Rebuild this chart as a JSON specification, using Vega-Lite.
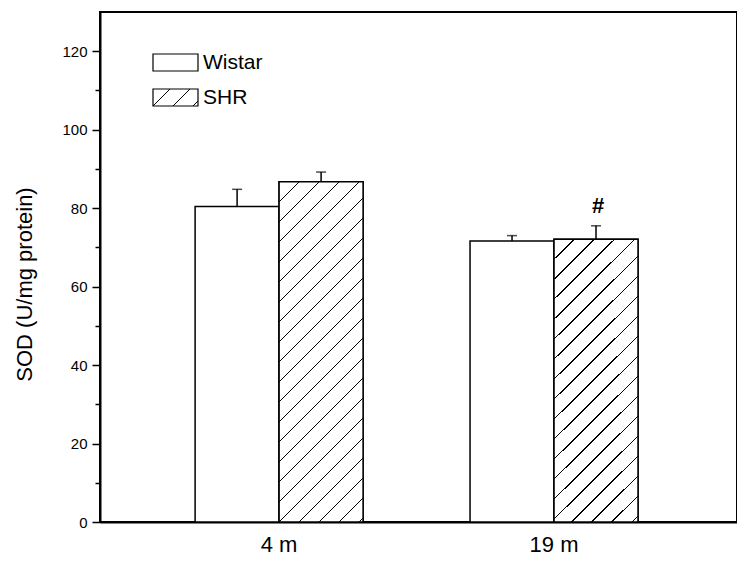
{
  "$schema": "https://vega.github.io/schema/vega-lite/v6.json",
  "autosize": {"type": "none"},
  "padding": {"left": 100, "top": 12, "right": 0, "bottom": 40},
  "width": 637,
  "height": 510,
  "background": "white",
  "config": {
    "font": "Liberation Sans",
    "view": {"stroke": "black", "strokeWidth": 2},
    "axis": {"grid": false, "domainColor": "black", "tickColor": "black", "labelColor": "black", "titleColor": "black"}
  },
  "data": {
    "values": [
      {"age": "4 m", "group": "Wistar", "mean": 80.4, "upper": 84.8, "note": ""},
      {"age": "4 m", "group": "SHR", "mean": 86.7, "upper": 89.2, "note": ""},
      {"age": "19 m", "group": "Wistar", "mean": 71.6, "upper": 73.0, "note": ""},
      {"age": "19 m", "group": "SHR", "mean": 72.1, "upper": 75.5, "note": "#"}
    ]
  },
  "encoding": {
    "x": {
      "field": "age", "type": "nominal", "sort": ["4 m", "19 m"],
      "scale": {"paddingInner": 0.389, "paddingOuter": 0.353, "align": 0.49},
      "axis": {"title": null, "ticks": false, "domainWidth": 2, "labelFontSize": 22, "labelPadding": 12, "labelAngle": 0, "labelDx": 6}
    },
    "xOffset": {
      "field": "group", "type": "nominal", "sort": ["Wistar", "SHR"],
      "scale": {"paddingInner": 0, "paddingOuter": 0}
    }
  },
  "resolve": {"axis": {"y": "independent"}},
  "layer": [
    {
      "mark": {"type": "bar", "stroke": "black", "strokeWidth": 1.5},
      "encoding": {
        "y": {
          "field": "mean", "type": "quantitative",
          "scale": {"domain": [0, 130], "nice": false},
          "axis": {
            "orient": "left", "values": [0, 20, 40, 60, 80, 100, 120],
            "tickSize": 8, "tickWidth": 1.5, "domainWidth": 2,
            "labelFontSize": 15, "labelPadding": 5,
            "title": "SOD (U/mg protein)", "titleFontSize": 22, "titleFontWeight": "normal",
            "titleX": -76, "titleY": 272, "titleBaseline": "middle", "titleAngle": 270
          }
        },
        "fill": {
          "field": "group", "type": "nominal",
          "scale": {"domain": ["Wistar", "SHR"], "range": ["white", {"expr": "{gradient: 'linear', x1: 0, y1: 0, x2: 1.2057, y2: 0.4555, stops: [{offset: 0, color: 'white'}, {offset: 0.2605, color: 'white'}, {offset: 0.2605, color: 'black'}, {offset: 0.2879, color: 'black'}, {offset: 0.2879, color: 'white'}, {offset: 0.5831, color: 'white'}, {offset: 0.5831, color: 'black'}, {offset: 0.6105, color: 'black'}, {offset: 0.6105, color: 'white'}, {offset: 0.9057, color: 'white'}, {offset: 0.9057, color: 'black'}, {offset: 0.9331, color: 'black'}, {offset: 0.9331, color: 'white'}, {offset: 1, color: 'white'}]}"}]},
          "legend": {
            "orient": "none", "legendX": 52, "legendY": 27, "title": null, "padding": 0,
            "symbolType": "M-1,-0.378H1V0.378H-1Z", "symbolSize": 2025,
            "symbolStrokeColor": "black", "symbolStrokeWidth": 1.2,
            "labelFontSize": 21, "labelOffset": 4, "rowPadding": -1, "labelColor": "black"
          }
        }
      }
    },
    {
      "transform": [{"filter": "datum.group === 'SHR'"}],
      "mark": {"type": "bar", "stroke": "black", "strokeWidth": 1.5},
      "encoding": {
        "y": {"field": "mean", "type": "quantitative", "scale": {"domain": [0, 130], "nice": false}, "axis": null},
        "fill": {
          "condition": [
            {"test": "datum.age === '4 m'", "value": {"gradient": "linear", "x1": 0, "y1": 0, "x2": 0.2904, "y2": 1.1754, "stops": [
              {"offset": 0, "color": "white"},
              {"offset": 0.0452, "color": "white"}, {"offset": 0.0452, "color": "black"}, {"offset": 0.0492, "color": "black"}, {"offset": 0.0492, "color": "white"},
              {"offset": 0.0923, "color": "white"}, {"offset": 0.0923, "color": "black"}, {"offset": 0.0963, "color": "black"}, {"offset": 0.0963, "color": "white"},
              {"offset": 0.1395, "color": "white"}, {"offset": 0.1395, "color": "black"}, {"offset": 0.1435, "color": "black"}, {"offset": 0.1435, "color": "white"},
              {"offset": 0.1867, "color": "white"}, {"offset": 0.1867, "color": "black"}, {"offset": 0.1907, "color": "black"}, {"offset": 0.1907, "color": "white"},
              {"offset": 0.2338, "color": "white"}, {"offset": 0.2338, "color": "black"}, {"offset": 0.2378, "color": "black"}, {"offset": 0.2378, "color": "white"},
              {"offset": 0.2810, "color": "white"}, {"offset": 0.2810, "color": "black"}, {"offset": 0.2850, "color": "black"}, {"offset": 0.2850, "color": "white"},
              {"offset": 0.3282, "color": "white"}, {"offset": 0.3282, "color": "black"}, {"offset": 0.3322, "color": "black"}, {"offset": 0.3322, "color": "white"},
              {"offset": 0.3754, "color": "white"}, {"offset": 0.3754, "color": "black"}, {"offset": 0.3794, "color": "black"}, {"offset": 0.3794, "color": "white"},
              {"offset": 0.4225, "color": "white"}, {"offset": 0.4225, "color": "black"}, {"offset": 0.4265, "color": "black"}, {"offset": 0.4265, "color": "white"},
              {"offset": 0.4697, "color": "white"}, {"offset": 0.4697, "color": "black"}, {"offset": 0.4737, "color": "black"}, {"offset": 0.4737, "color": "white"},
              {"offset": 0.5169, "color": "white"}, {"offset": 0.5169, "color": "black"}, {"offset": 0.5209, "color": "black"}, {"offset": 0.5209, "color": "white"},
              {"offset": 0.5640, "color": "white"}, {"offset": 0.5640, "color": "black"}, {"offset": 0.5680, "color": "black"}, {"offset": 0.5680, "color": "white"},
              {"offset": 0.6112, "color": "white"}, {"offset": 0.6112, "color": "black"}, {"offset": 0.6152, "color": "black"}, {"offset": 0.6152, "color": "white"},
              {"offset": 0.6584, "color": "white"}, {"offset": 0.6584, "color": "black"}, {"offset": 0.6624, "color": "black"}, {"offset": 0.6624, "color": "white"},
              {"offset": 0.7055, "color": "white"}, {"offset": 0.7055, "color": "black"}, {"offset": 0.7095, "color": "black"}, {"offset": 0.7095, "color": "white"},
              {"offset": 0.7527, "color": "white"}, {"offset": 0.7527, "color": "black"}, {"offset": 0.7567, "color": "black"}, {"offset": 0.7567, "color": "white"},
              {"offset": 0.7999, "color": "white"}, {"offset": 0.7999, "color": "black"}, {"offset": 0.8039, "color": "black"}, {"offset": 0.8039, "color": "white"},
              {"offset": 0.8471, "color": "white"}, {"offset": 0.8471, "color": "black"}, {"offset": 0.8511, "color": "black"}, {"offset": 0.8511, "color": "white"},
              {"offset": 0.8942, "color": "white"}, {"offset": 0.8942, "color": "black"}, {"offset": 0.8982, "color": "black"}, {"offset": 0.8982, "color": "white"},
              {"offset": 0.9414, "color": "white"}, {"offset": 0.9414, "color": "black"}, {"offset": 0.9454, "color": "black"}, {"offset": 0.9454, "color": "white"},
              {"offset": 0.9886, "color": "white"}, {"offset": 0.9886, "color": "black"}, {"offset": 0.9926, "color": "black"}, {"offset": 0.9926, "color": "white"},
              {"offset": 1, "color": "white"}
            ]}}
          ],
          "value": {"gradient": "linear", "x1": 0, "y1": 0, "x2": 0.3492, "y2": 1.1908, "stops": [
            {"offset": 0, "color": "white"},
            {"offset": 0.0523, "color": "white"}, {"offset": 0.0523, "color": "black"}, {"offset": 0.0569, "color": "black"}, {"offset": 0.0569, "color": "white"},
            {"offset": 0.1070, "color": "white"}, {"offset": 0.1070, "color": "black"}, {"offset": 0.1116, "color": "black"}, {"offset": 0.1116, "color": "white"},
            {"offset": 0.1616, "color": "white"}, {"offset": 0.1616, "color": "black"}, {"offset": 0.1662, "color": "black"}, {"offset": 0.1662, "color": "white"},
            {"offset": 0.2163, "color": "white"}, {"offset": 0.2163, "color": "black"}, {"offset": 0.2209, "color": "black"}, {"offset": 0.2209, "color": "white"},
            {"offset": 0.2709, "color": "white"}, {"offset": 0.2709, "color": "black"}, {"offset": 0.2755, "color": "black"}, {"offset": 0.2755, "color": "white"},
            {"offset": 0.3256, "color": "white"}, {"offset": 0.3256, "color": "black"}, {"offset": 0.3302, "color": "black"}, {"offset": 0.3302, "color": "white"},
            {"offset": 0.3802, "color": "white"}, {"offset": 0.3802, "color": "black"}, {"offset": 0.3848, "color": "black"}, {"offset": 0.3848, "color": "white"},
            {"offset": 0.4349, "color": "white"}, {"offset": 0.4349, "color": "black"}, {"offset": 0.4395, "color": "black"}, {"offset": 0.4395, "color": "white"},
            {"offset": 0.4895, "color": "white"}, {"offset": 0.4895, "color": "black"}, {"offset": 0.4941, "color": "black"}, {"offset": 0.4941, "color": "white"},
            {"offset": 0.5441, "color": "white"}, {"offset": 0.5441, "color": "black"}, {"offset": 0.5487, "color": "black"}, {"offset": 0.5487, "color": "white"},
            {"offset": 0.5988, "color": "white"}, {"offset": 0.5988, "color": "black"}, {"offset": 0.6034, "color": "black"}, {"offset": 0.6034, "color": "white"},
            {"offset": 0.6534, "color": "white"}, {"offset": 0.6534, "color": "black"}, {"offset": 0.6580, "color": "black"}, {"offset": 0.6580, "color": "white"},
            {"offset": 0.7081, "color": "white"}, {"offset": 0.7081, "color": "black"}, {"offset": 0.7127, "color": "black"}, {"offset": 0.7127, "color": "white"},
            {"offset": 0.7627, "color": "white"}, {"offset": 0.7627, "color": "black"}, {"offset": 0.7673, "color": "black"}, {"offset": 0.7673, "color": "white"},
            {"offset": 0.8174, "color": "white"}, {"offset": 0.8174, "color": "black"}, {"offset": 0.8220, "color": "black"}, {"offset": 0.8220, "color": "white"},
            {"offset": 0.8720, "color": "white"}, {"offset": 0.8720, "color": "black"}, {"offset": 0.8766, "color": "black"}, {"offset": 0.8766, "color": "white"},
            {"offset": 0.9267, "color": "white"}, {"offset": 0.9267, "color": "black"}, {"offset": 0.9313, "color": "black"}, {"offset": 0.9313, "color": "white"},
            {"offset": 0.9813, "color": "white"}, {"offset": 0.9813, "color": "black"}, {"offset": 0.9859, "color": "black"}, {"offset": 0.9859, "color": "white"},
            {"offset": 1, "color": "white"}
          ]}
        }
      }
    },
    {
      "mark": {"type": "rule", "color": "black", "strokeWidth": 1.5},
      "encoding": {
        "y": {
          "field": "mean", "type": "quantitative",
          "scale": {"domain": [0, 130], "nice": false},
          "axis": {"orient": "left", "values": [10, 30, 50, 70, 90, 110], "tickSize": 5, "tickWidth": 1.5, "labels": false, "domain": false, "title": null}
        },
        "y2": {"field": "upper"}
      }
    },
    {
      "mark": {"type": "tick", "orient": "horizontal", "color": "black", "size": 10, "thickness": 1.5},
      "encoding": {
        "y": {"field": "upper", "type": "quantitative", "scale": {"domain": [0, 130], "nice": false}, "axis": null}
      }
    },
    {
      "transform": [{"filter": "datum.note !== ''"}],
      "mark": {"type": "text", "fontSize": 22, "fontWeight": "bold", "baseline": "alphabetic", "dy": -13, "dx": 2, "color": "black"},
      "encoding": {
        "y": {"field": "upper", "type": "quantitative", "scale": {"domain": [0, 130], "nice": false}, "axis": null},
        "text": {"field": "note"}
      }
    }
  ]
}
